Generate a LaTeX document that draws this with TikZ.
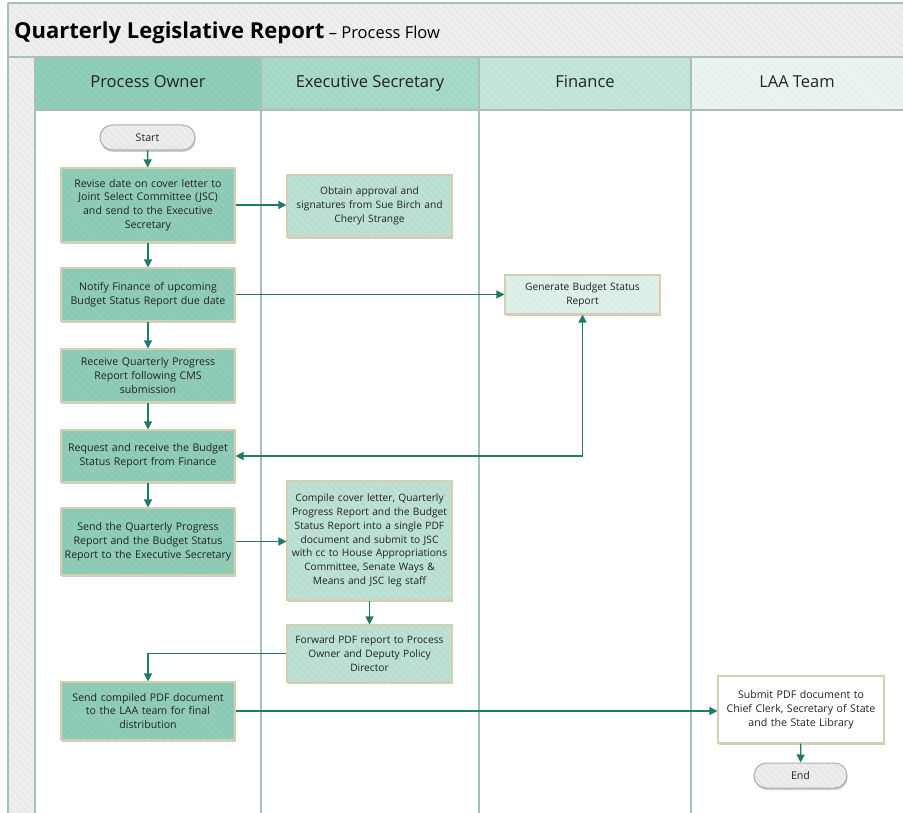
\documentclass[tikz,border=0pt]{standalone}
\usepackage{fontspec}
\setmainfont{Open Sans}
\usetikzlibrary{arrows.meta,shadows,patterns.meta}
\definecolor{band}{HTML}{EFEFEF}
\definecolor{gridc}{HTML}{A9BFB7}
\definecolor{hdA}{HTML}{8FCFBA}
\definecolor{hdB}{HTML}{A8DACA}
\definecolor{hdC}{HTML}{C3E6D9}
\definecolor{hdD}{HTML}{EAF5F1}
\definecolor{boxA}{HTML}{90CDB8}
\definecolor{boxB}{HTML}{BDE2D5}
\definecolor{boxC}{HTML}{DDF0E9}
\definecolor{boxln}{HTML}{D5CFB2}
\definecolor{arr}{HTML}{1F7A67}
\definecolor{pill}{HTML}{EDEDED}
\definecolor{pillln}{HTML}{9FB3AA}
\definecolor{txt}{HTML}{222222}
\newcommand\bxfont{\fontsize{10.6}{13.8}\selectfont}
\newcommand\exfont{\fontsize{10.2}{13.8}\selectfont}
\newcommand\hdfont{\fontsize{16.5}{19}\selectfont}
\tikzset{
  stripe/.style={postaction={pattern={Lines[angle=-45,distance=5pt,line width=1.4pt]},pattern color=#1}},
  nstripe/.style 2 args={preaction={fill=#1}, preaction={pattern={Lines[angle=-45,distance=5pt,line width=1.4pt]}, pattern color=#2}},
  shad/.style={drop shadow={shadow xshift=0.6pt, shadow yshift=-2pt, fill=black, opacity=0.2}},
  base/.style={shad, draw=boxln, line width=1.1pt, align=center, text=txt, font=\bxfont, inner sep=2pt},
  pbox/.style={base, nstripe={boxA}{boxA!97!black}, minimum width=174, text width=170},
  ebox/.style={base, font=\exfont, nstripe={boxB}{boxB!97!black}, minimum width=165, text width=161},
  fbox/.style={base, font=\exfont, nstripe={boxC}{boxC!98!black}, minimum width=155, text width=151},
  lbox/.style={base, fill=white, minimum width=166, text width=162},
  pillbox/.style={shad, draw=pillln, line width=1pt, nstripe={pill}{pill!97!black}, rounded corners=12.5pt,
    text=txt, font=\bxfont, minimum height=25},
  hdtxt/.style={font=\hdfont, text=txt, text height=12, text depth=4},
  gline/.style={draw=gridc, line width=1.3pt},
  flow/.style={draw=arr, line width=1.3pt, -{Triangle[length=8pt,width=8pt]}},
  flow2/.style={draw=arr, line width=1.3pt, {Triangle[length=8pt,width=8pt]}-{Triangle[length=8pt,width=8pt]}},
}
\begin{document}
\begin{tikzpicture}[x=1pt,y=-1pt]
\useasboundingbox (0,0) rectangle (903,813);
\fill[white] (0,0) rectangle (903,813);
% title band and left strip
\path[fill=band, stripe=band!97!black] (8,3) rectangle (903,57);
\path[fill=band, stripe=band!97!black] (8,57) rectangle (35,813);
% lane headers
\path[fill=hdA, stripe=hdA!97!black] (35,57) rectangle (261,110);
\path[fill=hdB, stripe=hdB!97!black] (261,57) rectangle (479,110);
\path[fill=hdC, stripe=hdC!98!black] (479,57) rectangle (691,110);
\path[fill=hdD, stripe=hdD!98!black] (691,57) rectangle (903,110);
% grid lines
\draw[gline] (8,3) -- (903,3);
\draw[gline] (8,3) -- (8,813);
\draw[gline] (8,57) -- (903,57);
\draw[gline] (35,110) -- (903,110);
\draw[gline] (35,57) -- (35,813);
\draw[gline] (261,57) -- (261,813);
\draw[gline] (479,57) -- (479,813);
\draw[gline] (691,57) -- (691,813);
% title
\node[anchor=base west, inner sep=0pt, text=black] (title) at (14,39)
  {\fontsize{22}{24}\selectfont\bfseries Quarterly Legislative Report\mdseries\fontsize{16.5}{18}\selectfont\ – Process Flow};
% header texts
\node[hdtxt] (hPO) at (148,84) {Process Owner};
\node[hdtxt] (hES) at (370,84) {Executive Secretary};
\node[hdtxt] (hFI) at (585,84) {Finance};
\node[hdtxt] (hLA) at (797,84) {LAA Team};
% nodes
\node[pillbox, minimum width=95] (start) at (147.5,137.5) {Start};
\node[pbox, minimum height=74] (b1) at (148,205) {Revise date on cover letter to\\Joint Select Committee (JSC)\\and send to the Executive\\Secretary};
\node[ebox, minimum height=62] (b2) at (369.5,206) {Obtain approval and\\signatures from Sue Birch and\\Cheryl Strange};
\node[pbox, minimum height=53] (b3) at (148,294.5) {Notify Finance of upcoming\\Budget Status Report due date};
\node[fbox, minimum height=39] (gen) at (582.5,294.5) {Generate Budget Status\\Report};
\node[pbox, minimum height=53] (b4) at (148,375.5) {Receive Quarterly Progress\\Report following CMS\\submission};
\node[pbox, minimum height=52] (b5) at (148,456) {Request and receive the Budget\\Status Report from Finance};
\node[pbox, minimum height=67] (b6) at (148,541.5) {Send the Quarterly Progress\\Report and the Budget Status\\Report to the Executive Secretary};
\node[ebox, minimum height=119] (b7) at (369.5,540.5) {Compile cover letter, Quarterly\\Progress Report and the Budget\\Status Report into a single PDF\\document and submit to JSC\\with cc to House Appropriations\\Committee, Senate Ways \&\\Means and JSC leg staff};
\node[ebox, minimum height=57] (b8) at (369.5,653.5) {Forward PDF report to Process\\Owner and Deputy Policy\\Director};
\node[pbox, minimum height=58] (b9) at (148,711) {Send compiled PDF document\\to the LAA team for final\\distribution};
\node[lbox, minimum height=67] (b10) at (801,709.5) {Submit PDF document to\\Chief Clerk, Secretary of State\\and the State Library};
\node[pillbox, minimum width=93] (end) at (800.5,775.5) {End};
% connectors
\draw[flow] (start) -- (b1);
\draw[flow] (b1.east) -- (b1.east -| b2.west);
\draw[flow] (b1) -- (b3);
\draw[flow] (b3.east) -- (b3.east -| gen.west);
\draw[flow] (b3) -- (b4);
\draw[flow] (b4) -- (b5);
\draw[flow2] (gen.south) -- (gen.south |- b5.east) -- (b5.east);
\draw[flow] (b5) -- (b6);
\draw[flow] (b6.east) -- (b6.east -| b7.west);
\draw[flow] (b7) -- (b8);
\draw[flow] (b8.west) -- (b8.west -| b9.north) -- (b9.north);
\draw[flow] (b9.east) -- (b9.east -| b10.west);
\draw[flow] (b10) -- (end);
\end{tikzpicture}
\end{document}
